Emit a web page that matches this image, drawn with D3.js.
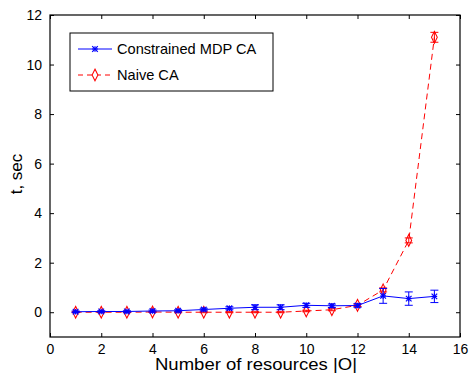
<!DOCTYPE html>
<html>
<head>
<meta charset="utf-8">
<script src="https://cdn.jsdelivr.net/npm/d3@7"></script>
<style>
body { margin: 0; background: #fff; }
text { font-family: "Liberation Sans", Arial, sans-serif; }
</style>
</head>
<body>
<div id="chart"></div>
<script>
const resources = [1, 2, 3, 4, 5, 6, 7, 8, 9, 10, 11, 12, 13, 14, 15];
const mdpMean = [0.02, 0.03, 0.03, 0.05, 0.06, 0.11, 0.16, 0.2, 0.2, 0.28, 0.26, 0.27, 0.66, 0.55, 0.64];
const mdpErr = [0.03, 0.03, 0.03, 0.04, 0.04, 0.05, 0.06, 0.1, 0.1, 0.08, 0.07, 0.07, 0.3, 0.27, 0.25];
const naiveMean = [0, 0, 0, 0.01, 0, 0, 0, 0, 0, 0.05, 0.1, 0.28, 0.9, 2.9, 11.1];
const naiveErr = [0.02, 0.02, 0.02, 0.02, 0.02, 0.02, 0.02, 0.02, 0.02, 0.03, 0.04, 0.05, 0.08, 0.1, 0.2];
const xTicks = [0, 2, 4, 6, 8, 10, 12, 14, 16];
const yTicks = [0, 2, 4, 6, 8, 10, 12];
const seriesNames = ["Constrained MDP CA", "Naive CA"];

const width = 470, height = 375;
const margin = {top: 15, right: 10, bottom: 38, left: 50};
const innerW = width - margin.left - margin.right;
const innerH = height - margin.top - margin.bottom;

const svg = d3.select("#chart").append("svg")
    .attr("width", width)
    .attr("height", height);

const g = svg.append("g")
    .attr("transform", `translate(${margin.left},${margin.top})`);

const x = d3.scaleLinear().domain([0, 16]).range([0, innerW]);
const y = d3.scaleLinear().domain([-1, 12]).range([innerH, 0]);

// axes, MATLAB style: ticks inside, mirrored on top and right
const tickLen = 4;
g.append("g")
    .attr("transform", `translate(0,${innerH})`)
    .call(d3.axisBottom(x).tickValues(xTicks).tickSizeInner(-tickLen).tickSizeOuter(0).tickPadding(7))
    .call(a => a.select(".domain").remove());
g.append("g")
    .call(d3.axisTop(x).tickValues(xTicks).tickSizeInner(-tickLen).tickSizeOuter(0).tickFormat(""))
    .call(a => a.select(".domain").remove());
g.append("g")
    .call(d3.axisLeft(y).tickValues(yTicks).tickSizeInner(-tickLen).tickSizeOuter(0).tickPadding(8))
    .call(a => a.select(".domain").remove());
g.append("g")
    .attr("transform", `translate(${innerW},0)`)
    .call(d3.axisRight(y).tickValues(yTicks).tickSizeInner(-tickLen).tickSizeOuter(0).tickFormat(""))
    .call(a => a.select(".domain").remove());

g.selectAll(".tick text")
    .attr("font-size", 14)
    .attr("fill", "#000")
    .style("font-family", "Liberation Sans, Arial, sans-serif");
g.selectAll(".tick line").attr("stroke", "#000");

g.append("rect")
    .attr("width", innerW)
    .attr("height", innerH)
    .attr("fill", "none")
    .attr("stroke", "#000")
    .attr("stroke-width", 1.2);

// axis labels
svg.append("text")
    .attr("x", 155)
    .attr("y", 370)
    .attr("font-size", 16.5)
    .attr("textLength", 202)
    .attr("lengthAdjust", "spacingAndGlyphs")
    .text("Number of resources |O|");
svg.append("text")
    .attr("transform", `translate(22,174) rotate(-90)`)
    .attr("text-anchor", "middle")
    .attr("font-size", 17)
    .text("t, sec");

const line = d3.line().x(d => x(d[0])).y(d => y(d[1]));

function drawErrors(means, errs, color) {
    const cap = 4;
    const eg = g.append("g").attr("stroke", color).attr("stroke-width", 1);
    resources.forEach((r, i) => {
        const cx = x(r), lo = y(means[i] - errs[i]), hi = y(means[i] + errs[i]);
        eg.append("line").attr("x1", cx).attr("x2", cx).attr("y1", lo).attr("y2", hi);
        eg.append("line").attr("x1", cx - cap).attr("x2", cx + cap).attr("y1", lo).attr("y2", lo);
        eg.append("line").attr("x1", cx - cap).attr("x2", cx + cap).attr("y1", hi).attr("y2", hi);
    });
}

// naive CA (red dashed, diamonds)
const naivePts = resources.map((r, i) => [r, naiveMean[i]]);
drawErrors(naiveMean, naiveErr, "#ff0000");
g.append("path")
    .datum(naivePts)
    .attr("d", line)
    .attr("fill", "none")
    .attr("stroke", "#ff0000")
    .attr("stroke-width", 1)
    .attr("stroke-dasharray", "6,4");
const diamond = d3.symbol().type(d3.symbolDiamond).size(40);
g.selectAll(".naive-pt")
    .data(naivePts)
    .enter().append("path")
    .attr("class", "naive-pt")
    .attr("transform", d => `translate(${x(d[0])},${y(d[1])}) scale(0.85,1)`)
    .attr("d", diamond)
    .attr("fill", "none")
    .attr("stroke", "#ff0000")
    .attr("stroke-width", 1.2);

// constrained MDP CA (blue solid, stars)
const mdpPts = resources.map((r, i) => [r, mdpMean[i]]);
drawErrors(mdpMean, mdpErr, "#0000ff");
g.append("path")
    .datum(mdpPts)
    .attr("d", line)
    .attr("fill", "none")
    .attr("stroke", "#0000ff")
    .attr("stroke-width", 1);

function star(sel, cx, cy, color) {
    const s = 2.8;
    [[-s, 0, s, 0], [0, -s, 0, s], [-s, -s, s, s], [-s, s, s, -s]].forEach(l => {
        sel.append("line")
            .attr("x1", cx + l[0]).attr("y1", cy + l[1])
            .attr("x2", cx + l[2]).attr("y2", cy + l[3])
            .attr("stroke", color).attr("stroke-width", 1.2);
    });
}
const starG = g.append("g");
mdpPts.forEach(d => star(starG, x(d[0]), y(d[1]), "#0000ff"));

// legend
const lg = svg.append("g").attr("transform", "translate(70,33)");
lg.append("rect")
    .attr("width", 203)
    .attr("height", 58)
    .attr("fill", "#fff")
    .attr("stroke", "#000")
    .attr("stroke-width", 1);
lg.append("line").attr("x1", 8).attr("x2", 42).attr("y1", 16).attr("y2", 16)
    .attr("stroke", "#0000ff").attr("stroke-width", 1);
star(lg, 25, 16, "#0000ff");
lg.append("line").attr("x1", 8).attr("x2", 42).attr("y1", 42).attr("y2", 42)
    .attr("stroke", "#ff0000").attr("stroke-width", 1).attr("stroke-dasharray", "5,4");
lg.append("path")
    .attr("transform", "translate(25,42) scale(0.85,1)")
    .attr("d", diamond)
    .attr("fill", "#fff")
    .attr("stroke", "#ff0000")
    .attr("stroke-width", 1.2);
lg.selectAll(".leg-text")
    .data(seriesNames)
    .enter().append("text")
    .attr("class", "leg-text")
    .attr("x", 47)
    .attr("y", (d, i) => 16 + i * 26)
    .attr("dy", "0.35em")
    .attr("font-size", 14.6)
    .text(d => d);
</script>
</body>
</html>
